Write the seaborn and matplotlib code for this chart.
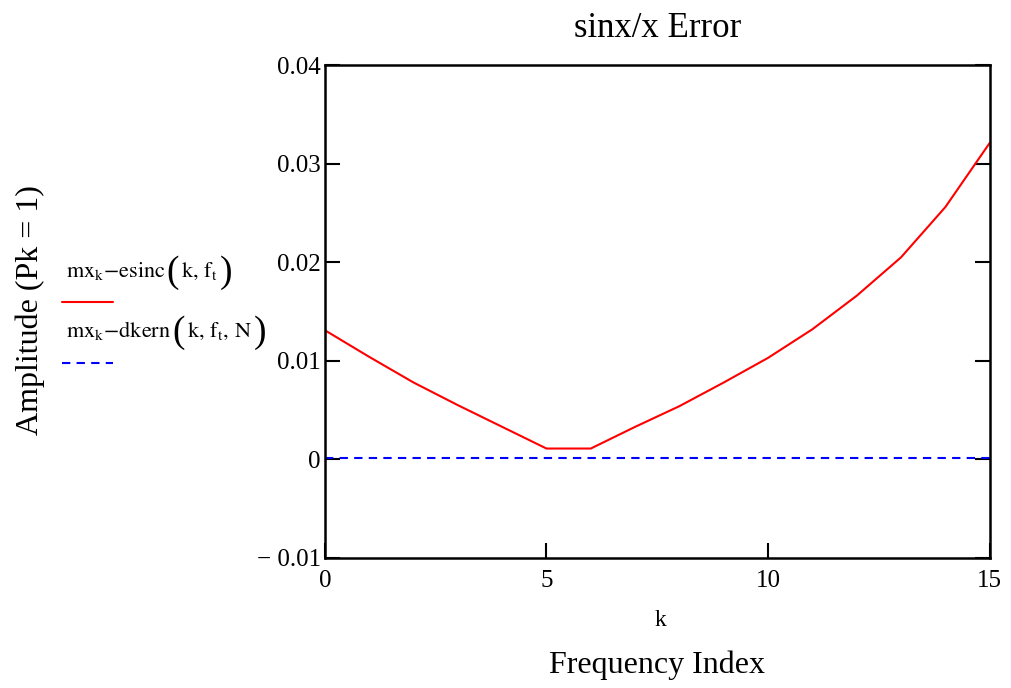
import numpy as np
import pandas as pd
import seaborn as sns
import matplotlib
matplotlib.use("Agg")
import matplotlib.pyplot as plt
from matplotlib.lines import Line2D

k = list(range(16))
err_esinc = [0.0131, 0.0104, 0.0078, 0.0055, 0.0033, 0.0011, 0.0011, 0.0033,
             0.0054, 0.0078, 0.0103, 0.0132, 0.0166, 0.0205, 0.0256, 0.0321]
err_dkern = [0.0001] * 16
x_ticks = [0, 5, 10, 15]
y_ticks = [-0.01, 0.0, 0.01, 0.02, 0.03, 0.04]
y_tick_labels = ["\u2212 0.01", "0", "0.01", "0.02", "0.03", "0.04"]
legend_heads = [r"$\mathrm{mx_k}\mathrm{-esinc}$", r"$\mathrm{mx_k}\mathrm{-dkern}$"]
legend_args = [r"$\mathrm{k,\,f_t}$", r"$\mathrm{k,\,f_t,\,N}$"]

sns.set_theme(style="ticks")
plt.rcParams["font.family"] = ["Liberation Serif", "DejaVu Serif"]
plt.rcParams["mathtext.fontset"] = "stix"
plt.rcParams["text.color"] = "black"
plt.rcParams["axes.labelcolor"] = "black"

fig = plt.figure(figsize=(10.12, 6.88), dpi=100)
ax = fig.add_axes([0.321, 0.189, 0.657, 0.7165])

df = pd.DataFrame({"k": k, "esinc": err_esinc, "dkern": err_dkern})
sns.lineplot(data=df, x="k", y="esinc", ax=ax, color="#ff0000", linewidth=1.5)
sns.lineplot(data=df, x="k", y="dkern", ax=ax, color="#0000ff", linewidth=1.5,
             linestyle=(0, (4, 3)))

ax.set_xlim(0, 15)
ax.set_ylim(-0.01, 0.04)
ax.set_xticks(x_ticks)
ax.set_xticklabels([str(v) for v in x_ticks])
ax.set_yticks(y_ticks)
ax.set_yticklabels(y_tick_labels)
ax.tick_params(direction="in", length=11, width=1.5, labelsize=18, colors="black",
               labelcolor="black", top=False, right=True, pad=3)
ax.tick_params(axis="x", pad=9)
for s in ax.spines.values():
    s.set_visible(True)
    s.set_linewidth(1.8)
    s.set_color("black")

ax.set_title("sinx/x Error", fontsize=25, pad=20, color="black")
ax.set_xlabel("")
ax.set_ylabel("")

fig.text(660 / 1012, 1 - 620 / 688, "k", fontsize=17, ha="center", va="center")
fig.text(657 / 1012, 1 - 665 / 688, "Frequency Index", fontsize=23, ha="center", va="center")
fig.text(30 / 1012, 1 - 310 / 688, "Amplitude (Pk = 1)", fontsize=23, ha="center",
         va="center", rotation=90)

# legend (label above line), with tall parentheses
renderer = fig.canvas.get_renderer()
W, H = fig.bbox.width, fig.bbox.height


def legend_label(x_px, y_px, head, arg):
    y = 1 - y_px / H
    t = fig.text(x_px / W, y, head, fontsize=16, ha="left", va="baseline")
    x = t.get_window_extent(renderer).x1 + 1
    p = fig.text(x / W, y - 5 / H, "(", fontsize=27, ha="left", va="baseline")
    x = p.get_window_extent(renderer).x1 + 2
    a = fig.text(x / W, y, arg, fontsize=16, ha="left", va="baseline")
    x = a.get_window_extent(renderer).x1 + 2
    fig.text(x / W, y - 5 / H, ")", fontsize=27, ha="left", va="baseline")


legend_label(66, 277, legend_heads[0], legend_args[0])
fig.add_artist(Line2D([62 / W, 113 / W], [1 - 302 / H, 1 - 302 / H],
                      color="#ff0000", linewidth=1.5, transform=fig.transFigure))
legend_label(66, 337, legend_heads[1], legend_args[1])
fig.add_artist(Line2D([62 / W, 113 / W], [1 - 363 / H, 1 - 363 / H],
                      color="#0000ff", linewidth=1.5, linestyle=(0, (4, 3)),
                      transform=fig.transFigure))

fig.savefig("out.png", dpi=100)
